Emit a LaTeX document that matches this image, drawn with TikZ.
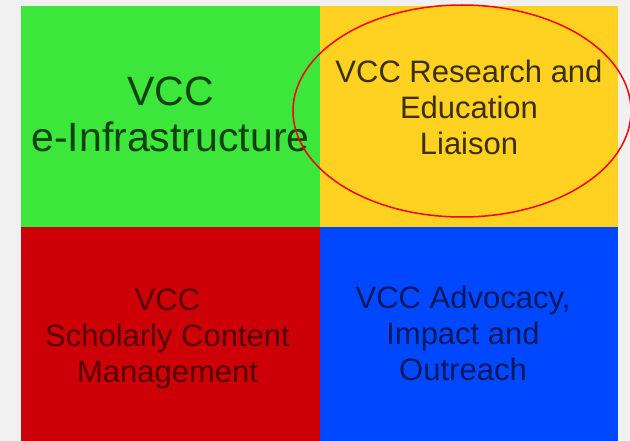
\documentclass[tikz,border=0pt]{standalone}
\usepackage{fontspec}
\setmainfont{Liberation Sans}
\usetikzlibrary{positioning}
\definecolor{pagegrey}{HTML}{F1F1F1}
\definecolor{vccgreen}{HTML}{3CE63A}
\definecolor{vccyellow}{HTML}{FFD222}
\definecolor{vccred}{HTML}{CC0006}
\definecolor{vccblue}{HTML}{0048FF}
\definecolor{greentext}{HTML}{0F420F}
\definecolor{yellowtext}{HTML}{3C2F06}
\definecolor{redtext}{HTML}{560000}
\definecolor{bluetext}{HTML}{061860}
\newcommand{\bigtext}{\fontsize{41}{46}\selectfont}
\newcommand{\smalltext}{\fontsize{31}{36}\selectfont}

\begin{document}
\begin{tikzpicture}[
    x=1pt, y=-1pt,
    node distance=0pt,
    quad/.style={minimum width=299pt, minimum height=221pt, inner sep=0pt, outer sep=0pt},
    lowquad/.style={quad, minimum height=214pt},
    label/.style={align=center, inner sep=0pt},
    ring/.style={draw=red, line width=1.5pt}
  ]
    \useasboundingbox (0,0) rectangle (630,441);
    \fill[pagegrey] (0,0) rectangle (630,441);

    % four quadrants
    \node[quad, fill=vccgreen, anchor=north west] (infra) at (21,6) {};
    \node[quad, fill=vccyellow, right=of infra, minimum width=298pt] (liaison) {};
    \node[lowquad, fill=vccred, below=of infra] (content) {};
    \node[lowquad, fill=vccblue, right=of content, minimum width=298pt] (outreach) {};

    \node[label, text=greentext, font=\bigtext, yshift=2pt] (infratext) at (infra.center) {VCC\\e-Infrastructure};
    \node[label, text=yellowtext, font=\smalltext, yshift=9pt] (liaisontext) at (liaison.center) {VCC Research and\\Education\\Liaison};
    \node[label, text=redtext, font=\smalltext, yshift=-5pt, xshift=-3pt] (contenttext) at (content.center) {VCC\\Scholarly Content\\Management};
    \node[label, text=bluetext, font=\smalltext, yshift=1pt, xshift=-6pt] (outreachtext) at (outreach.center) {VCC Advocacy,\\Impact and\\Outreach};

    % highlight round the liaison quadrant
    \draw[ring] (462,111) ellipse [x radius=169pt, y radius=106pt];
  \end{tikzpicture}
\end{document}
